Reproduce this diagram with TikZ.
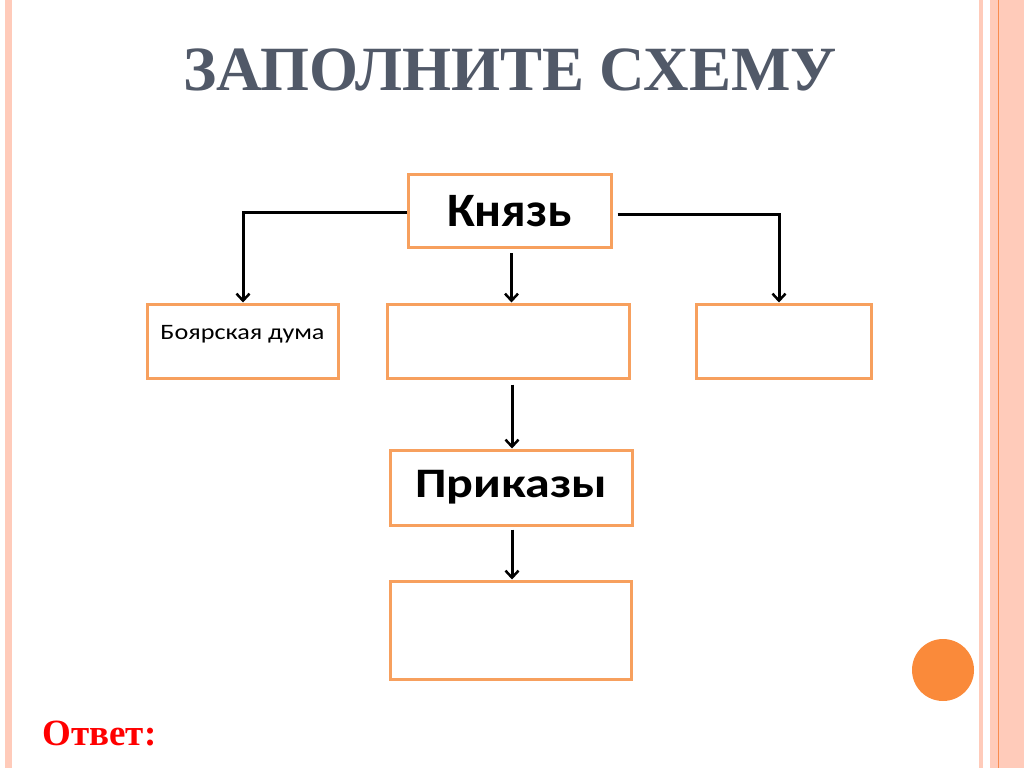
\documentclass[tikz,border=0pt]{standalone}
\usepackage{fontspec}
\setmainfont{Liberation Serif}
\newfontfamily\calibri{Carlito}
\usetikzlibrary{arrows.meta}
\definecolor{boxorange}{RGB}{247,160,94}
\definecolor{stripe}{RGB}{255,203,186}
\definecolor{stripedark}{RGB}{248,140,80}
\definecolor{dot}{RGB}{250,138,58}
\definecolor{titlegray}{RGB}{81,89,104}
\begin{document}
\begin{tikzpicture}[x=1pt, y=-1pt,
  box/.style={draw=boxorange, line width=3pt, inner sep=0pt},
  link/.style={line width=3pt, black},
  arr/.style={link, -{Straight Barb[length=7pt, width=13pt, line width=2.5pt]}}]
\useasboundingbox (0,0) rectangle (1024,768);
% page frame
\fill[stripe] (5,0) rectangle (12,768);
\fill[stripe] (979,0) rectangle (983,768);
\fill[stripe] (990,0) rectangle (1024,768);
\draw[stripedark, line width=1pt] (998,0) -- (998,768);
\fill[dot] (943,670) circle (31);
% title
\node[font=\bfseries\fontsize{63}{63}\selectfont, text=titlegray, anchor=base] (title) at (510,90) {ЗАПОЛНИТЕ СХЕМУ};
% boxes
\node[box, minimum width=203, minimum height=73, font=\calibri\bfseries\fontsize{48}{48}\selectfont] (knyaz) at (509.5,211) {\scalebox{1.03}[1]{Князь}};
\node[box, minimum width=191, minimum height=74,
  label={[font=\calibri\fontsize{22}{22}\selectfont, anchor=north, inner sep=0pt, yshift=-23pt]north:\scalebox{1.19}[1]{Боярская дума}}] (duma) at (242.5,341) {};
\node[box, minimum width=242, minimum height=74] (mid) at (508,341) {};
\node[box, minimum width=175, minimum height=74] (right) at (783.5,341) {};
\node[box, minimum width=242, minimum height=75, font=\calibri\bfseries\fontsize{42}{42}\selectfont] (prikazy) at (511,487.5) {\scalebox{1.19}[1]{Приказы}};
\node[box, minimum width=241, minimum height=98] (bottom) at (510.5,630) {};
% connectors
\coordinate (lcorner) at (243,212);
\coordinate (rcorner) at (779,214);
\draw[link] (knyaz.west |- lcorner) -- ([xshift=-1.5pt]lcorner);
\draw[arr] (lcorner) -- (lcorner |- duma.north);
\draw[link] ([xshift=5pt]knyaz.east |- rcorner) -- ([xshift=1.5pt]rcorner);
\draw[arr] (rcorner) -- (rcorner |- right.north);
\draw[arr] ([xshift=2pt,yshift=-4pt]knyaz.south) -- ([xshift=3.5pt]mid.north);
\draw[arr] ([xshift=4pt,yshift=-5pt]mid.south) -- ([xshift=1pt]prikazy.north);
\draw[arr] ([xshift=1pt,yshift=-3pt]prikazy.south) -- ([xshift=1.5pt]bottom.north);
% answer
\node[font=\bfseries\fontsize{37}{37}\selectfont, text=red, anchor=base west] (answer) at (39,745) {Ответ:};
\end{tikzpicture}
\end{document}
